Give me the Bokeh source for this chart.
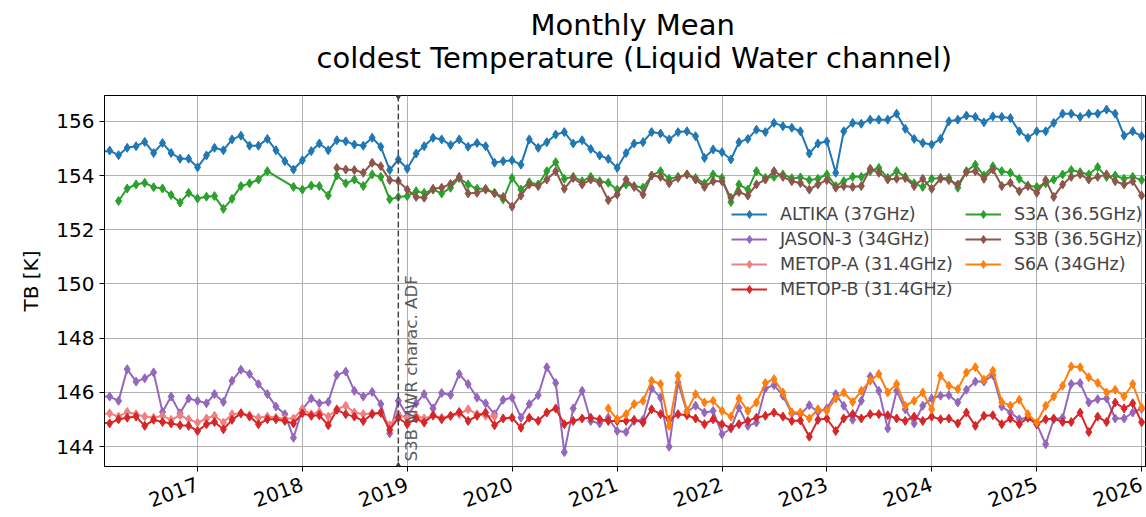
import numpy as np
import pandas as pd
from bokeh.plotting import figure
from bokeh.models import Legend, LegendItem, Span, FixedTicker, DatetimeTickFormatter, Range1d, Title
from bokeh.core.properties import value
from bokeh.embed import file_html
from bokeh.resources import INLINE

FONT = "DejaVu Sans"

# ---------------- data (monthly means, month-start dates) ----------------
series_names = ["ALTIKA (37GHz)", "JASON-3 (34GHz)", "METOP-A (31.4GHz)", "METOP-B (31.4GHz)",
                "S3A (36.5GHz)", "S3B (36.5GHz)", "S6A (34GHz)"]
series_colors = ["#1f77b4", "#9467bd", "#f08080", "#d62728", "#2ca02c", "#8c564b", "#ff7f0e"]
series_start = ["2016-02-01", "2016-02-01", "2016-02-01", "2016-02-01",
                "2016-04-01", "2018-05-01", "2020-12-01"]

altika = [154.85, 154.92, 154.75, 155.02, 155.08, 155.24, 154.83, 155.2, 154.83, 154.62, 154.62,
          154.3, 154.74, 155.02, 154.93, 155.33, 155.47, 155.1, 155.1, 155.35, 154.93, 154.53, 154.22,
          154.56, 154.9, 155.18, 154.93, 155.3, 155.26, 155.14, 155.1, 155.39, 155.06, 154.2, 154.59,
          154.25, 154.81, 155.08, 155.39, 155.33, 155.12, 155.33, 155.06, 155.2, 155.08, 154.47, 154.53,
          154.56, 154.4, 155.33, 155.02, 155.23, 155.51, 155.6, 155.18, 155.3, 154.98, 154.74, 154.61,
          154.28, 154.83, 155.18, 155.23, 155.6, 155.55, 155.33, 155.6, 155.63, 155.45, 154.65, 154.96,
          154.86, 154.59, 155.23, 155.35, 155.69, 155.6, 155.94, 155.82, 155.76, 155.63, 154.81, 155.18,
          155.26, 154.1, 155.63, 155.94, 155.91, 156.06, 156.06, 156.06, 156.28, 155.72, 155.35, 155.2,
          155.14, 155.35, 156.0, 156.06, 156.21, 156.16, 155.96, 156.18, 156.16, 156.12, 155.63, 155.39,
          155.63, 155.63, 155.94, 156.28, 156.28, 156.16, 156.28, 156.28, 156.43, 156.28, 155.47, 155.63,
          155.45]

jason3 = [145.85, 145.85, 145.69, 146.86, 146.4, 146.52, 146.74, 145.28, 145.85, 145.23, 145.78,
          145.69, 145.6, 145.94, 145.65, 146.43, 146.84, 146.68, 146.31, 145.94, 145.48, 145.2, 144.33,
          145.38, 145.78, 145.6, 145.65, 146.64, 146.77, 146.06, 145.85, 146.02, 145.57, 144.49, 145.69,
          145.14, 145.6, 145.94, 145.41, 145.98, 145.91, 146.68, 146.31, 145.81, 145.6, 145.2, 145.73,
          145.81, 145.07, 145.57, 145.9, 146.93, 146.35, 143.8, 145.41, 146.06, 144.95, 144.86, 145.07,
          144.58, 144.54, 144.95, 144.99, 146.15, 145.81, 144.0, 146.37, 145.28, 145.51, 145.26, 145.32,
          144.46, 144.67, 145.44, 144.77, 144.89, 146.15, 146.27, 145.88, 145.23, 145.2, 145.53, 145.28,
          145.41, 145.94, 145.51, 144.99, 145.69, 146.59, 146.06, 144.67, 146.06, 145.38, 144.86, 145.51,
          145.78, 145.88, 145.9, 145.63, 146.1, 146.4, 146.4, 146.64, 145.48, 145.26, 145.01, 145.07,
          144.83, 144.09, 145.01, 145.07, 146.31, 146.35, 145.63, 145.75, 145.78, 145.04, 145.04, 145.26,
          145.4]

metop_a = [145.2, 145.23, 145.11, 145.28, 145.2, 145.11, 145.07, 145.14, 144.99, 145.16, 145.01,
           144.89, 145.04, 145.14, 144.89, 145.2, 145.23, 145.16, 145.07, 145.11, 145.07, 145.04, 145.04,
           145.38, 145.2, 145.28, 145.11, 145.38, 145.51, 145.26, 145.2, 145.23, 145.23, 144.79, 145.2,
           145.04, 145.14, 145.04, 145.14, 145.07, 145.14, 145.2, 145.38, 145.2, 145.14, 145.11]

metop_b = [144.9, 144.86, 145.01, 145.07, 145.11, 144.77, 144.99, 144.91, 144.86, 144.79, 144.77,
           144.58, 144.83, 144.91, 144.64, 144.99, 145.23, 145.11, 144.83, 145.01, 145.01, 144.95, 144.86,
           145.23, 145.14, 145.16, 144.79, 145.36, 145.2, 145.11, 144.95, 145.2, 145.26, 144.62, 145.07,
           144.83, 145.04, 144.89, 145.16, 145.01, 145.14, 145.28, 144.95, 145.14, 145.26, 144.79, 145.04,
           145.07, 144.7, 145.07, 144.95, 145.26, 145.41, 144.83, 144.95, 145.04, 145.07, 145.01, 144.95,
           144.95, 144.95, 144.99, 144.89, 145.38, 145.2, 144.99, 145.2, 145.16, 145.04, 144.83, 145.01,
           144.83, 144.7, 144.83, 144.95, 145.07, 145.14, 145.26, 145.11, 144.95, 144.97, 144.37, 144.99,
           145.04, 144.58, 145.04, 145.2, 145.04, 145.2, 145.2, 145.16, 145.04, 144.95, 145.11, 144.95,
           145.11, 145.01, 145.04, 144.86, 145.26, 144.77, 145.14, 145.16, 144.83, 145.04, 144.83, 145.07,
           144.83, 145.01, 145.04, 144.91, 144.91, 145.26, 144.54, 145.11, 144.91, 145.63, 145.41, 145.6,
           144.9]

s3a = [153.06, 153.52, 153.67, 153.73, 153.57, 153.52, 153.28, 153.0, 153.36,
       153.15, 153.22, 153.24, 152.77, 153.14, 153.61, 153.71, 153.85, 154.16, None, None, 153.58,
       153.48, 153.63, 153.61, 153.26, 154.0, 153.71, 153.85, 153.61, 154.04, 153.95, 153.12, 153.21,
       153.24, 153.42, 153.36, 153.48, 153.34, 153.55, 153.91, 153.67, 153.51, 153.51, 153.36, 153.12,
       153.91, 153.48, 153.75, 153.67, 154.16, 154.49, 153.88, 153.95, 153.79, 153.95, 153.79, 153.73,
       153.48, 153.67, 153.61, 153.55, 154.0, 154.16, 153.88, 153.95, 154.04, 153.91, 153.71, 154.04,
       153.91, 153.02, 153.67, 153.48, 154.16, 153.91, 153.95, 154.04, 153.9, 153.93, 153.83, 153.88,
       154.04, 153.61, 153.79, 153.95, 153.95, 154.16, 154.28, 153.91, 154.16, 153.95, 153.71, 153.58,
       153.88, 153.91, 153.91, 153.55, 154.16, 154.4, 154.0, 154.34, 154.16, 154.1, 153.88, 153.63,
       153.58, 153.71, 153.85, 154.04, 154.2, 154.12, 154.04, 154.31, 153.95, 154.0, 153.88, 153.95,
       153.83]

s3b = [154.28, 154.22, 154.2, 154.1, 154.47, 154.34, 153.83, 153.79,
       153.48, 153.21, 153.18, 153.51, 153.55, 153.69, 153.95, 153.34, 153.36, 153.48, 153.34, 153.21,
       152.85, 153.26, 153.67, 153.61, 153.85, 154.16, 153.51, 153.91, 153.67, 153.85, 153.73, 153.09,
       153.3, 153.85, 153.58, 153.3, 154.0, 153.95, 153.71, 153.91, 154.04, 153.85, 153.58, 153.79,
       153.79, 153.18, 153.39, 153.26, 153.67, 153.85, 154.16, 153.95, 153.79, 153.72, 153.48, 153.67,
       153.83, 153.55, 153.61, 153.58, 153.61, 154.25, 154.1, 153.85, 153.88, 153.91, 153.61, 153.88,
       153.51, 153.88, 153.83, 153.67, 154.12, 154.16, 153.88, 154.22, 153.61, 153.73, 153.42, 153.61,
       153.36, 153.83, 153.21, 153.67, 153.95, 154.04, 153.85, 153.95, 154.04, 153.79, 153.67, 153.79,
       153.26]

s6a = [145.41,
       145.01, 145.2, 145.57, 145.69, 146.43, 146.31, 144.77, 146.62, 145.32, 145.94, 145.63, 145.69,
       145.32, 145.11, 145.78, 145.32, 145.63, 146.35, 146.49, 146.0, 145.27, 145.26, 145.04, 145.38,
       145.32, 145.78, 146.0, 145.65, 146.06, 146.43, 146.68, 146.0, 146.31, 145.51, 145.69, 146.0,
       145.38, 146.62, 146.25, 146.12, 146.74, 146.93, 146.47, 146.8, 145.65, 145.51, 145.73, 145.2,
       144.89, 145.51, 145.85, 146.25, 146.96, 146.93, 146.56, 146.35, 146.0, 146.1, 145.85, 146.31,
       145.44]

series_values = [altika, jason3, metop_a, metop_b, s3a, s3b, s6a]

y_ticks = [144, 146, 148, 150, 152, 154, 156]
x_tick_years = [2017, 2018, 2019, 2020, 2021, 2022, 2023, 2024, 2025, 2026]

title_lines = ["Monthly Mean", "coldest Temperature (Liquid Water channel)"]
event_date = "2018-12-01"
event_label = "S3B MWR charac. ADF"

# ---------------- figure ----------------
y_lo, y_hi = 143.27, 156.95
x_lo, x_hi = pd.Timestamp("2016-02-12"), pd.Timestamp("2026-01-18")

p = figure(width=1146, height=517, x_axis_type="datetime",
           x_range=Range1d(x_lo, x_hi), y_range=Range1d(y_lo, y_hi),
           output_backend="svg", toolbar_location=None,
           min_border_left=104, min_border_right=0, min_border_top=95, min_border_bottom=49)
p.title = None

# two-line title: lower line added first (closest to the frame), upper line second
for txt, so, off in ((title_lines[1], 42, 212), (title_lines[0], -49, 426)):
    p.add_layout(Title(text=txt, align="left", offset=off, text_font=FONT, text_font_size="29px",
                       text_font_style="normal", text_color="black", standoff=so), "above")

p.outline_line_color = "black"
p.outline_line_width = 1
p.background_fill_color = "white"
p.border_fill_color = "white"

for g in (p.xgrid, p.ygrid):
    g.grid_line_color = "#b0b0b0"
    g.grid_line_width = 1

p.yaxis.ticker = FixedTicker(ticks=y_ticks)
p.xaxis.ticker = FixedTicker(ticks=[pd.Timestamp(f"{y}-01-01").value / 1e6 for y in x_tick_years])
p.xaxis.formatter = DatetimeTickFormatter(years="%Y", months="%Y", days="%Y", hours="%Y",
                                          minutes="%Y", seconds="%Y", milliseconds="%Y")
for ax in (p.xaxis, p.yaxis):
    ax.major_label_text_font = FONT
    ax.major_label_text_font_size = "20px"
    ax.major_label_text_color = "black"
    ax.axis_line_color = "black"
    ax.major_tick_line_color = "black"
    ax.major_tick_out = 5
    ax.major_tick_in = 0
    ax.minor_tick_line_color = None
p.xaxis.major_label_orientation = np.deg2rad(20)
p.xaxis.major_label_standoff = 12
p.yaxis.axis_label = "TB [K]"
p.yaxis.axis_label_text_font = FONT
p.yaxis.axis_label_text_font_size = "20px"
p.yaxis.axis_label_text_font_style = "normal"
p.yaxis.axis_label_text_color = "black"
p.yaxis.axis_label_standoff = 10
p.yaxis.major_label_standoff = 5

items = []
for name, color, start, vals in zip(series_names, series_colors, series_start, series_values):
    dates = pd.date_range(start, periods=len(vals), freq="MS")
    keep = [i for i, v in enumerate(vals) if v is not None]
    xs = [dates[i] for i in keep]
    ys = [vals[i] for i in keep]
    ln = p.line(xs, ys, line_color=color, line_width=2)
    sc = p.scatter(xs, ys, marker="diamond", size=9, fill_color=color, line_color=color)
    items.append(LegendItem(label=name, renderers=[ln, sc]))

# event line
ev = pd.Timestamp(event_date)
p.add_layout(Span(location=ev.value / 1e6, dimension="height", line_color="#444444",
                  line_dash="6 3", line_width=1.5))
p.scatter([ev], [y_hi], marker="inverted_triangle", size=7, fill_color="#444444", line_color="#444444")
p.scatter([ev], [y_lo], marker="triangle", size=7, fill_color="#444444", line_color="#444444")
p.text(x=[ev], y=[y_lo + 0.18], text=[event_label], angle=np.pi / 2, text_align="left",
       text_baseline="top", x_offset=3, text_font=value(FONT), text_font_size="16.7px",
       text_color="#5a5a5a")

common = dict(background_fill_alpha=0, border_line_alpha=0, padding=0, margin=0,
              glyph_width=36, glyph_height=20, label_height=20, spacing=5, label_standoff=13,
              label_text_font=FONT, label_text_font_size="17.5px")
leg1 = Legend(items=items[:4], location=(627, 167), **common)
leg2 = Legend(items=items[4:], location=(861, 192), **common)
p.add_layout(leg1, "center")
p.add_layout(leg2, "center")

open("out.html", "w").write(file_html(p, INLINE))
